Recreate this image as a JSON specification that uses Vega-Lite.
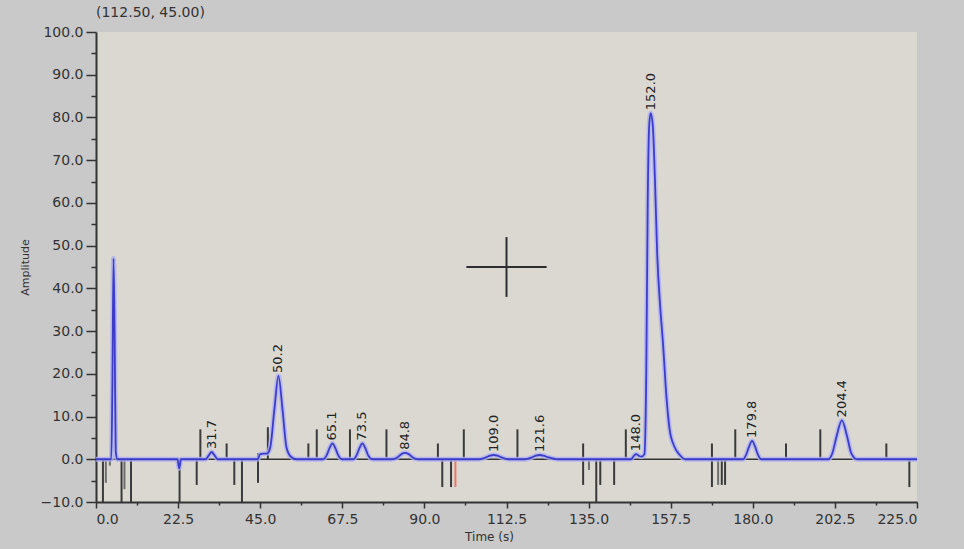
{
  "$schema": "https://vega.github.io/schema/vega-lite/v6.json",
  "autosize": "none",
  "width": 821,
  "height": 470,
  "padding": {"left": 96, "top": 32, "right": 47, "bottom": 47},
  "background": "#c9c9c9",
  "title": {"text": "(112.50, 45.00)", "anchor": "start", "frame": "group", "offset": 5, "font": "DejaVu Sans", "fontSize": 14, "fontWeight": "normal", "color": "#333333"},
  "config": {
    "view": {"fill": "#dbd8d2", "stroke": null},
    "axis": {"grid": false, "labelFont": "DejaVu Sans", "labelFontSize": 14, "labelColor": "#333333", "titleFont": "DejaVu Sans", "titleFontWeight": "normal", "titleColor": "#333333", "domainColor": "#333333", "tickColor": "#333333"}
  },
  "datasets": {
    "trace": [
      {"t": 0, "a": 0}, {"t": 4.2, "a": 0}, {"t": 4.5, "a": 18}, {"t": 4.8, "a": 47}, {"t": 5.1, "a": 30}, {"t": 5.4, "a": 2}, {"t": 5.8, "a": 0},
      {"t": 22.3, "a": 0}, {"t": 22.8, "a": -2.1}, {"t": 23.3, "a": 0},
      {"t": 30.0, "a": 0}, {"t": 30.9, "a": 0.9}, {"t": 31.7, "a": 1.7}, {"t": 32.5, "a": 0.9}, {"t": 33.4, "a": 0},
      {"t": 44.3, "a": 0}, {"t": 45.0, "a": 1.2}, {"t": 47.0, "a": 1.4}, {"t": 47.8, "a": 3}, {"t": 48.9, "a": 11.8}, {"t": 50.0, "a": 19.5}, {"t": 51.1, "a": 11.8}, {"t": 52.2, "a": 2.8}, {"t": 53.4, "a": 0.6}, {"t": 55.0, "a": 0},
      {"t": 62.2, "a": 0}, {"t": 63.2, "a": 0.9}, {"t": 64.0, "a": 2.6}, {"t": 64.8, "a": 3.7}, {"t": 65.6, "a": 2.6}, {"t": 66.4, "a": 0.9}, {"t": 67.5, "a": 0},
      {"t": 70.5, "a": 0}, {"t": 71.4, "a": 0.9}, {"t": 72.2, "a": 2.6}, {"t": 73.0, "a": 3.7}, {"t": 73.8, "a": 2.6}, {"t": 74.6, "a": 0.9}, {"t": 75.8, "a": 0},
      {"t": 81.0, "a": 0}, {"t": 82.7, "a": 0.5}, {"t": 83.7, "a": 1.2}, {"t": 84.7, "a": 1.5}, {"t": 85.7, "a": 1.2}, {"t": 86.7, "a": 0.5}, {"t": 88.2, "a": 0},
      {"t": 105.0, "a": 0}, {"t": 107.0, "a": 0.5}, {"t": 108.0, "a": 0.85}, {"t": 109.0, "a": 1.0}, {"t": 110.0, "a": 0.85}, {"t": 111.0, "a": 0.5}, {"t": 113.0, "a": 0},
      {"t": 117.4, "a": 0}, {"t": 119.6, "a": 0.5}, {"t": 120.6, "a": 0.85}, {"t": 121.6, "a": 1.0}, {"t": 122.6, "a": 0.85}, {"t": 123.8, "a": 0.5}, {"t": 126.5, "a": 0},
      {"t": 146.6, "a": 0}, {"t": 147.4, "a": 0.8}, {"t": 148.0, "a": 1.2}, {"t": 148.8, "a": 0.8}, {"t": 149.5, "a": 0.6}, {"t": 150.3, "a": 1.2},
      {"t": 150.8, "a": 20}, {"t": 151.2, "a": 60}, {"t": 151.6, "a": 78}, {"t": 152.0, "a": 81}, {"t": 152.6, "a": 78}, {"t": 153.2, "a": 65}, {"t": 153.8, "a": 48}, {"t": 154.6, "a": 36}, {"t": 155.4, "a": 27}, {"t": 156.3, "a": 15}, {"t": 157.2, "a": 7}, {"t": 158.5, "a": 3}, {"t": 160.0, "a": 1}, {"t": 161.5, "a": 0},
      {"t": 177.3, "a": 0}, {"t": 178.2, "a": 1.1}, {"t": 179.0, "a": 3.0}, {"t": 179.8, "a": 4.3}, {"t": 180.6, "a": 3.0}, {"t": 181.4, "a": 1.1}, {"t": 182.4, "a": 0},
      {"t": 200.7, "a": 0}, {"t": 201.8, "a": 1.4}, {"t": 203.0, "a": 5.5}, {"t": 204.4, "a": 9.1}, {"t": 205.8, "a": 5.5}, {"t": 207.0, "a": 1.4}, {"t": 208.6, "a": 0},
      {"t": 225, "a": 0}
    ],
    "markers": [
      {"t": 1.9, "y1": 0, "y2": -10, "kind": "event"},
      {"t": 2.7, "y1": 0, "y2": -5.5, "kind": "weak"},
      {"t": 3.8, "y1": 0, "y2": -1.5, "kind": "weak"},
      {"t": 7.0, "y1": 0, "y2": -10, "kind": "event"},
      {"t": 7.8, "y1": 0, "y2": -7, "kind": "weak"},
      {"t": 9.6, "y1": 0, "y2": -10, "kind": "event"},
      {"t": 22.9, "y1": 0, "y2": -10, "kind": "event"},
      {"t": 27.6, "y1": 0, "y2": -6, "kind": "event"},
      {"t": 28.6, "y1": 0, "y2": 7, "kind": "event"},
      {"t": 35.8, "y1": 0, "y2": 3.7, "kind": "event"},
      {"t": 37.9, "y1": 0, "y2": -6, "kind": "event"},
      {"t": 40.0, "y1": 0, "y2": -10, "kind": "event"},
      {"t": 44.4, "y1": 1.4, "y2": -5.5, "kind": "event"},
      {"t": 47.1, "y1": 0, "y2": 7.5, "kind": "event"},
      {"t": 58.2, "y1": 0, "y2": 3.7, "kind": "event"},
      {"t": 60.5, "y1": 0, "y2": 7, "kind": "event"},
      {"t": 69.6, "y1": 0, "y2": 7, "kind": "event"},
      {"t": 79.6, "y1": 0, "y2": 7, "kind": "event"},
      {"t": 93.7, "y1": 0, "y2": 3.7, "kind": "event"},
      {"t": 94.9, "y1": 0, "y2": -6.5, "kind": "event"},
      {"t": 97.3, "y1": 0, "y2": -6.5, "kind": "event"},
      {"t": 98.5, "y1": 0, "y2": -6.5, "kind": "flag"},
      {"t": 100.8, "y1": 0, "y2": 7, "kind": "event"},
      {"t": 115.5, "y1": 0, "y2": 7, "kind": "event"},
      {"t": 133.5, "y1": 3.7, "y2": -6, "kind": "event"},
      {"t": 135.1, "y1": 0, "y2": -2.5, "kind": "weak"},
      {"t": 137.1, "y1": 0, "y2": -10, "kind": "event"},
      {"t": 138.2, "y1": 0, "y2": -6, "kind": "event"},
      {"t": 142.0, "y1": 0, "y2": -6, "kind": "event"},
      {"t": 145.2, "y1": 0, "y2": 7, "kind": "event"},
      {"t": 168.8, "y1": 3.7, "y2": -6.5, "kind": "event"},
      {"t": 170.5, "y1": 0, "y2": -6, "kind": "weak"},
      {"t": 171.5, "y1": 0, "y2": -6, "kind": "event"},
      {"t": 172.4, "y1": 0, "y2": -6, "kind": "event"},
      {"t": 175.2, "y1": 0, "y2": 7, "kind": "event"},
      {"t": 189.1, "y1": 0, "y2": 3.7, "kind": "event"},
      {"t": 198.5, "y1": 0, "y2": 7, "kind": "event"},
      {"t": 216.6, "y1": 0, "y2": 3.7, "kind": "event"},
      {"t": 222.9, "y1": 0, "y2": -6.5, "kind": "event"}
    ],
    "peaks": [
      {"t": 31.7, "a": 1.7, "label": "31.7"},
      {"t": 50.0, "a": 19.5, "label": "50.2"},
      {"t": 64.8, "a": 3.7, "label": "65.1"},
      {"t": 73.0, "a": 3.7, "label": "73.5"},
      {"t": 84.7, "a": 1.5, "label": "84.8"},
      {"t": 109.0, "a": 1.0, "label": "109.0"},
      {"t": 121.6, "a": 1.0, "label": "121.6"},
      {"t": 148.0, "a": 1.2, "label": "148.0"},
      {"t": 152.0, "a": 81, "label": "152.0"},
      {"t": 179.8, "a": 4.3, "label": "179.8"},
      {"t": 204.4, "a": 9.1, "label": "204.4"}
    ]
  },
  "resolve": {"axis": {"x": "independent", "y": "independent"}},
  "layer": [
    {
      "data": {"values": [{"t0": 0, "t1": 225, "a": 0}]},
      "mark": {"type": "rule", "color": "#333333", "strokeWidth": 1.5},
      "encoding": {
        "x": {"field": "t0", "type": "quantitative", "scale": {"domain": [0, 225], "nice": false, "zero": false},
              "axis": {"orient": "bottom", "values": [11.25, 33.75, 56.25, 78.75, 101.25, 123.75, 146.25, 168.75, 191.25, 213.75], "labels": false, "domain": false, "tickSize": 3, "tickWidth": 1.5, "title": null}},
        "x2": {"field": "t1"},
        "y": {"field": "a", "type": "quantitative", "scale": {"domain": [-10, 100], "nice": false, "zero": false},
              "axis": {"orient": "left", "values": [-5, 5, 15, 25, 35, 45, 55, 65, 75, 85, 95], "labels": false, "domain": false, "tickSize": 5, "tickWidth": 1.5, "title": null}}
      }
    },
    {
      "data": {"name": "markers"},
      "mark": {"type": "rule", "strokeWidth": 2},
      "encoding": {
        "x": {"field": "t", "type": "quantitative", "scale": {"domain": [0, 225], "nice": false, "zero": false}, "axis": null},
        "y": {"field": "y1", "type": "quantitative", "scale": {"domain": [-10, 100], "nice": false, "zero": false}, "axis": null},
        "y2": {"field": "y2"},
        "color": {"field": "kind", "type": "nominal", "scale": {"domain": ["event", "weak", "flag"], "range": ["#3a3a3a", "#6e6e6e", "#e8786a"]}, "legend": null}
      }
    },
    {
      "data": {"name": "trace"},
      "mark": {"type": "line", "color": "#aeb0f2", "strokeWidth": 5, "opacity": 0.8, "interpolate": "monotone"},
      "encoding": {
        "x": {"field": "t", "type": "quantitative", "scale": {"domain": [0, 225], "nice": false, "zero": false}, "axis": null},
        "y": {"field": "a", "type": "quantitative", "scale": {"domain": [-10, 100], "nice": false, "zero": false}, "axis": null}
      }
    },
    {
      "data": {"name": "trace"},
      "mark": {"type": "line", "color": "#3c3cc8", "strokeWidth": 1.8, "interpolate": "monotone"},
      "encoding": {
        "x": {"field": "t", "type": "quantitative", "scale": {"domain": [0, 225], "nice": false, "zero": false},
              "axis": {"orient": "bottom", "values": [0, 22.5, 45, 67.5, 90, 112.5, 135, 157.5, 180, 202.5, 225], "format": ".1f", "domainWidth": 2, "tickSize": 6, "tickWidth": 1.5, "labelPadding": 4, "title": "Time (s)", "titleFontSize": 12, "titlePadding": 5, "titleX": 393}},
        "y": {"field": "a", "type": "quantitative", "scale": {"domain": [-10, 100], "nice": false, "zero": false},
              "axis": {"orient": "left", "values": [-10, 0, 10, 20, 30, 40, 50, 60, 70, 80, 90, 100], "format": ".1f", "domainWidth": 2, "tickSize": 10, "tickWidth": 1.5, "labelPadding": 3, "title": "Amplitude", "titleFontSize": 11, "titlePadding": 10}}
      }
    },
    {
      "data": {"name": "peaks"},
      "mark": {"type": "text", "angle": 270, "align": "left", "baseline": "middle", "dx": 3, "font": "DejaVu Sans", "fontSize": 13, "color": "#222222"},
      "encoding": {
        "x": {"field": "t", "type": "quantitative", "scale": {"domain": [0, 225], "nice": false, "zero": false}, "axis": null},
        "y": {"field": "a", "type": "quantitative", "scale": {"domain": [-10, 100], "nice": false, "zero": false}, "axis": null},
        "text": {"field": "label", "type": "nominal"}
      }
    },
    {
      "data": {"values": [{"t0": 101.5, "t1": 123.5, "a": 45}]},
      "mark": {"type": "rule", "color": "#2e2e2e", "strokeWidth": 2},
      "encoding": {
        "x": {"field": "t0", "type": "quantitative", "scale": {"domain": [0, 225], "nice": false, "zero": false}, "axis": null},
        "x2": {"field": "t1"},
        "y": {"field": "a", "type": "quantitative", "scale": {"domain": [-10, 100], "nice": false, "zero": false}, "axis": null}
      }
    },
    {
      "data": {"values": [{"t": 112.5, "a0": 38, "a1": 52}]},
      "mark": {"type": "rule", "color": "#2e2e2e", "strokeWidth": 2},
      "encoding": {
        "x": {"field": "t", "type": "quantitative", "scale": {"domain": [0, 225], "nice": false, "zero": false}, "axis": null},
        "y": {"field": "a0", "type": "quantitative", "scale": {"domain": [-10, 100], "nice": false, "zero": false}, "axis": null},
        "y2": {"field": "a1"}
      }
    }
  ]
}
